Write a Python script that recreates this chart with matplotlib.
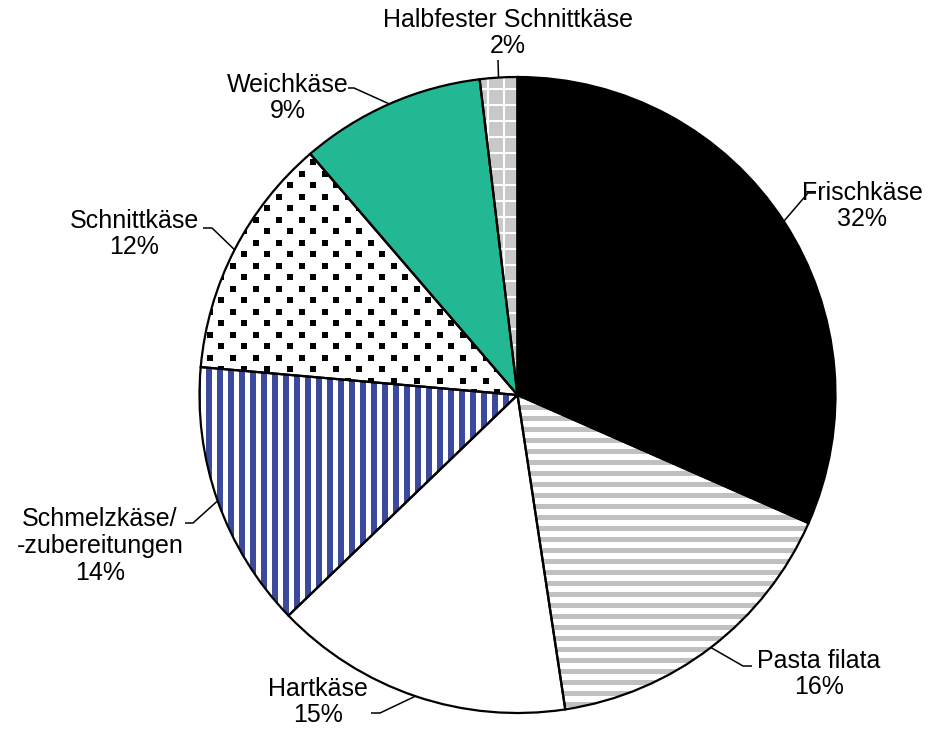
import numpy as np
import matplotlib
matplotlib.use("Agg")
import matplotlib.pyplot as plt
from matplotlib.patches import Rectangle, Wedge
from matplotlib.collections import PatchCollection, LineCollection

plt.rcParams['font.family'] = ['Liberation Sans', 'DejaVu Sans']

categories = ["Frischkäse", "Pasta filata", "Hartkäse", "Schmelzkäse/\n-zubereitungen",
              "Schnittkäse", "Weichkäse", "Halbfester Schnittkäse"]
values = [31.6, 16.0, 15.2, 13.6, 12.3, 9.4, 1.9]
base_colors = ["#000000", "#ffffff", "#ffffff", "#ffffff", "#ffffff", "#21b893", "#c8c8c8"]

W, H, DPI = 943, 753, 100
CX, CY, R = 517.5, 395.0, 318.0
s = 1.0 / R  # data units per pixel

fig = plt.figure(figsize=(W / DPI, H / DPI), dpi=DPI)
ax = fig.add_axes([0, 0, 1, 1])

wedges, _ = ax.pie(values, startangle=90, counterclock=False, colors=base_colors,
                   radius=1.0, center=(0, 0), frame=False,
                   wedgeprops=dict(linewidth=0, edgecolor='none'))
ax.set_xlim(-CX / R, (W - CX) / R)
ax.set_ylim(-(H - CY) / R, CY / R)
ax.set_aspect('equal')
ax.axis('off')


def px(x, y):
    return ((x - CX) * s, (CY - y) * s)


# Pasta filata: grey horizontal stripes
w = wedges[1]
for y in np.arange(-1.05, 1.05, 11 * s):
    r = Rectangle((-1.05, y), 2.1, 5 * s, facecolor='#c0c0c0', edgecolor='none', zorder=2)
    ax.add_patch(r)
    r.set_clip_path(w)

# Schmelzkäse: blue vertical stripes
w = wedges[3]
for x in np.arange(-1.05, 1.05, 11 * s):
    r = Rectangle((x, -1.05), 6 * s, 2.1, facecolor='#3b4a9c', edgecolor='none', zorder=2)
    ax.add_patch(r)
    r.set_clip_path(w)

# Schnittkäse: black square dots
w = wedges[4]
sq = []
step = 11.5 * s
for j, y in enumerate(np.arange(-1.05, 1.05, step)):
    off = (j % 2) * step
    for x in np.arange(-1.05 + off, 1.05, 2 * step):
        sq.append(Rectangle((x, y), 6 * s, 6 * s))
pc = PatchCollection(sq, facecolor='black', edgecolor='none', zorder=2)
ax.add_collection(pc)
pc.set_clip_path(w)

# Halbfester Schnittkäse: white grid
w = wedges[6]
segs = []
for x in np.arange(-1.05, 1.05, 16 * s):
    segs.append([(x, -1.05), (x, 1.05)])
for y in np.arange(-1.05, 1.05, 16 * s):
    segs.append([(-1.05, y), (1.05, y)])
lc = LineCollection(segs, colors='white', linewidths=1.5, zorder=2)
ax.add_collection(lc)
lc.set_clip_path(w)

# outlines
for w in wedges:
    ax.add_patch(Wedge((0, 0), 1.0, w.theta1, w.theta2, fill=False,
                       edgecolor='black', linewidth=1.6, zorder=3))

# labels: (text center px, leader points px after wedge anchor)
label_layout = [
    ((862, 206), [(808, 193), (816, 193)]),
    ((819, 674), [(743, 666), (752, 666)]),
    ((318, 702), [(380, 713), (371, 713)]),
    ((100, 546), [(193, 523), (185, 523)]),
    ((134, 234), [(212, 228), (203, 228)]),
    ((288, 98), [(354, 88), (348, 88)]),
    ((508, 33), [(498, 60)]),
]

for w, v, cat, (tpos, pts) in zip(wedges, values, categories, label_layout):
    mid = np.deg2rad((w.theta1 + w.theta2) / 2)
    ax_pt = (np.cos(mid), np.sin(mid))
    line = [ax_pt] + [px(*p) for p in pts]
    xs, ys = zip(*line)
    ax.plot(xs, ys, color='black', linewidth=1.1, zorder=4, solid_capstyle='butt')
    ax.text(*px(*tpos), f"{cat}\n{v:.0f}%", ha='center', va='center',
            fontsize=18, linespacing=1.15, color='#000000', zorder=5)

fig.savefig("out.png", dpi=DPI)
